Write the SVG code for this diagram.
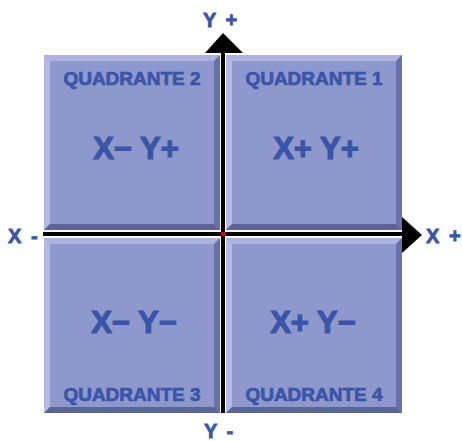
<svg xmlns="http://www.w3.org/2000/svg" width="462" height="441" viewBox="0 0 462 441">
<defs>
<style>
.face{fill:#8f98cc}
.top{fill:#adb3df}
.left{fill:#b5bae3}
.right{fill:#6a71a8}
.bot{fill:#5c6396}
.title{font-family:"Liberation Sans",Arial,sans-serif;font-weight:bold;font-size:19px;fill:#3a55a8;stroke:#3a55a8;stroke-width:0.7px;text-anchor:middle}
.big{font-family:"Liberation Sans",Arial,sans-serif;font-weight:bold;font-size:31px;fill:#3a55a8;stroke:#3a55a8;stroke-width:1.2px;text-anchor:middle}
.axis{font-family:"Liberation Sans",Arial,sans-serif;font-weight:bold;font-size:20px;fill:#3a55a8;stroke:#3a55a8;stroke-width:0.8px;word-spacing:4px}
.ax{stroke:#000;stroke-width:4}
</style>
<g id="tile">
<rect x="0" y="0" width="176" height="175" class="face"/>
<polygon points="0,0 176,0 170,6 6,6" class="top"/>
<polygon points="0,0 6,6 6,169 0,175" class="left"/>
<polygon points="176,0 176,175 170,169 170,6" class="right"/>
<polygon points="0,175 6,169 170,169 176,175" class="bot"/>
</g>
</defs>
<g id="q2">
<use href="#tile" x="44" y="55"/>
<text x="132" y="85" class="title">QUADRANTE 2</text>
<text x="136" y="159" class="big">X− Y+</text>
</g>
<g id="q1">
<use href="#tile" x="226" y="55"/>
<text x="314" y="85" class="title">QUADRANTE 1</text>
<text x="316" y="159" class="big">X+ Y+</text>
</g>
<g id="q3">
<use href="#tile" x="44" y="238"/>
<text x="132" y="401" class="title">QUADRANTE 3</text>
<text x="134" y="333" class="big">X− Y−</text>
</g>
<g id="q4">
<use href="#tile" x="226" y="238"/>
<text x="314" y="401" class="title">QUADRANTE 4</text>
<text x="313" y="333" class="big">X+ Y−</text>
</g>
<g id="connectors">
<line x1="43" y1="234" x2="404" y2="234" class="ax"/>
<polygon points="402,217 422,235 402,253" fill="#000"/>
<line x1="223" y1="52" x2="223" y2="413" class="ax"/>
<polygon points="205,53 223,33 243,53" fill="#000"/>
<rect x="221" y="232" width="4" height="4" fill="#e00000"/>
</g>
<g id="labels">
<text x="203" y="27" class="axis">Y +</text>
<text x="426" y="243" class="axis">X +</text>
<text x="8" y="243" class="axis">X -</text>
<text x="204" y="438" class="axis">Y -</text>
</g>
</svg>
